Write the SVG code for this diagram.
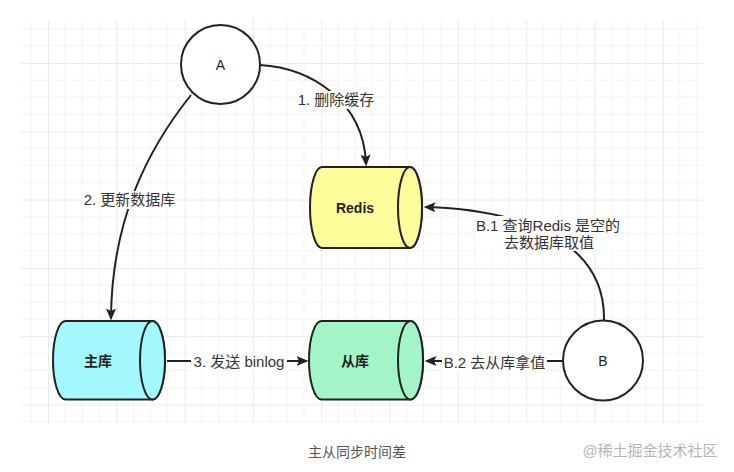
<svg xmlns="http://www.w3.org/2000/svg" width="734" height="472" viewBox="0 0 734 472">
<defs>
<pattern id="grid" patternUnits="userSpaceOnUse" x="48" y="63" width="68.3" height="68.3">
<path d="M17.08,0V68.3M34.15,0V68.3M51.23,0V68.3M0,17.08H68.3M0,34.15H68.3M0,51.23H68.3" stroke="#f3f3f3" stroke-width="1" fill="none"/>
<path d="M0.5,0V68.3M0,0.5H68.3" stroke="#eaeaea" stroke-width="1" fill="none"/>
</pattern>
<marker id="arrow" markerUnits="userSpaceOnUse" markerWidth="13" markerHeight="11" refX="8.5" refY="5.5" orient="auto">
<path d="M0,0.5 L12,5.5 L0,10.5 L2.5,5.5 Z" fill="#222"/>
</marker>
</defs>
<style>
.line{fill:none;stroke:#222;stroke-width:2}
.node{stroke:#222;stroke-width:2}
.lbl{font-family:"Liberation Sans","Noto Sans CJK SC",sans-serif;font-size:15px;fill:#333;text-anchor:middle}
.nlbl{font-family:"Liberation Sans","Noto Sans CJK SC",sans-serif;font-size:14px;fill:#222;text-anchor:middle;font-weight:bold}
.clbl{font-family:"Liberation Sans","Noto Sans CJK SC",sans-serif;font-size:14px;fill:#222;text-anchor:middle}
.bg{fill:#fff}
</style>
<rect width="734" height="472" fill="#fff"/>
<rect x="21" y="20" width="682" height="404" fill="url(#grid)"/>

<g id="connectors">
<path class="line" d="M260,65 C310,68 363,100 366,163" marker-end="url(#arrow)"/>
<path class="line" d="M191,95 C147,150 112,220 111,317" marker-end="url(#arrow)"/>
<path class="line" d="M167,361 L305,361" marker-end="url(#arrow)"/>
<path class="line" d="M563,361 L428,361" marker-end="url(#arrow)"/>
<path class="line" d="M604,321 C606,240 520,210 427,207" marker-end="url(#arrow)"/>
<rect class="bg" x="297" y="91" width="78" height="18"/>
<text class="lbl" x="336" y="105">1. 删除缓存</text>
<rect class="bg" x="82" y="191" width="95" height="18"/>
<text class="lbl" x="129.5" y="205">2. 更新数据库</text>
<rect class="bg" x="191" y="353" width="96" height="18"/>
<text class="lbl" x="239" y="367">3. 发送 binlog</text>
<rect class="bg" x="442" y="354" width="105" height="18"/>
<text class="lbl" x="494.5" y="368">B.2 去从库拿值</text>
<rect class="bg" x="477" y="216" width="142" height="35"/>
<text class="lbl" x="548" y="231">B.1 查询Redis 是空的</text>
<text class="lbl" x="549" y="248">去数据库取值</text>
</g>

<g id="node-A">
<circle class="node" cx="220.5" cy="64.5" r="39.5" fill="#fff"/>
<text class="clbl" x="220.5" y="69.5">A</text>
</g>
<g id="node-B">
<circle class="node" cx="603" cy="360.5" r="40" fill="#fff"/>
<text class="clbl" x="603" y="366">B</text>
</g>
<g id="node-redis">
<path class="node" fill="#fdfd9b" d="M322,167 H410 A12,40.5 0 0 1 410,248 H322 A12,40.5 0 0 1 322,167 Z"/>
<ellipse class="node" fill="#fdfd9b" cx="410" cy="207.5" rx="12" ry="40.5"/>
<text class="nlbl" x="355" y="213">Redis</text>
</g>
<g id="node-master">
<path class="node" fill="#a2f8fc" d="M65.5,321 H152.5 A12.5,39.25 0 0 1 152.5,399.5 H65.5 A12.5,39.25 0 0 1 65.5,321 Z"/>
<ellipse class="node" fill="#a2f8fc" cx="152.5" cy="360.25" rx="12.5" ry="39.25"/>
<text class="nlbl" x="98" y="366">主库</text>
</g>
<g id="node-slave">
<path class="node" fill="#a3f5c8" d="M321.5,321 H410.5 A12.5,39.25 0 0 1 410.5,399.5 H321.5 A12.5,39.25 0 0 1 321.5,321 Z"/>
<ellipse class="node" fill="#a3f5c8" cx="410.5" cy="360.25" rx="12.5" ry="39.25"/>
<text class="nlbl" x="355" y="366">从库</text>
</g>

<text x="357" y="457" font-family="'Liberation Sans','Noto Sans CJK SC',sans-serif" font-size="14" fill="#555" text-anchor="middle">主从同步时间差</text>
<text x="650" y="456" font-family="'Liberation Sans','Noto Sans CJK SC',sans-serif" font-size="15" fill="#b5b5b5" text-anchor="middle">@稀土掘金技术社区</text>
</svg>
